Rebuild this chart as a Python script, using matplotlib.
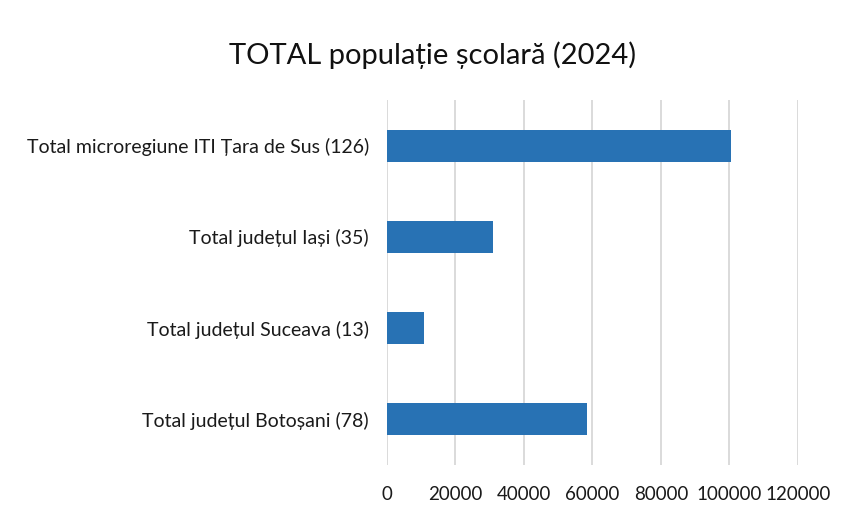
import matplotlib.pyplot as plt

categories = [
    "Total microregiune ITI Țara de Sus (126)",
    "Total județul Iași (35)",
    "Total județul Suceava (13)",
    "Total județul Botoșani (78)",
]
values = [100500, 30900, 10800, 58400]
xticks = [0, 20000, 40000, 60000, 80000, 100000, 120000]

plt.rcParams["font.family"] = ["Lato", "DejaVu Sans"]

fig = plt.figure(figsize=(8.45, 5.13), dpi=100)
ax = fig.add_axes([387 / 845, 1 - 465 / 513, (798 - 387) / 845, (465 - 100) / 513])

ypos = list(range(len(categories)))
ax.barh(ypos, values, height=0.35, color="#2872b4", zorder=3)
ax.set_ylim(len(categories) - 0.5, -0.5)
ax.set_xlim(0, 120000)
ax.set_xticks(xticks)
ax.set_xticklabels([str(t) for t in xticks], fontsize=13.5, color="#1a1a1a")
ax.set_yticks(ypos)
ax.set_yticklabels(categories, fontsize=14, color="#1a1a1a")
ax.tick_params(axis="both", length=0)
ax.tick_params(axis="x", pad=15)
ax.tick_params(axis="y", pad=13)
ax.grid(axis="x", color="#d4d4d4", linewidth=1.2, zorder=0)
for s in ax.spines.values():
    s.set_visible(False)

fig.text(433 / 845, 1 - 55 / 513, "TOTAL populație școlară (2024)", ha="center", va="center",
         fontsize=21, color="#111111")

fig.savefig("out.png", dpi=100)
